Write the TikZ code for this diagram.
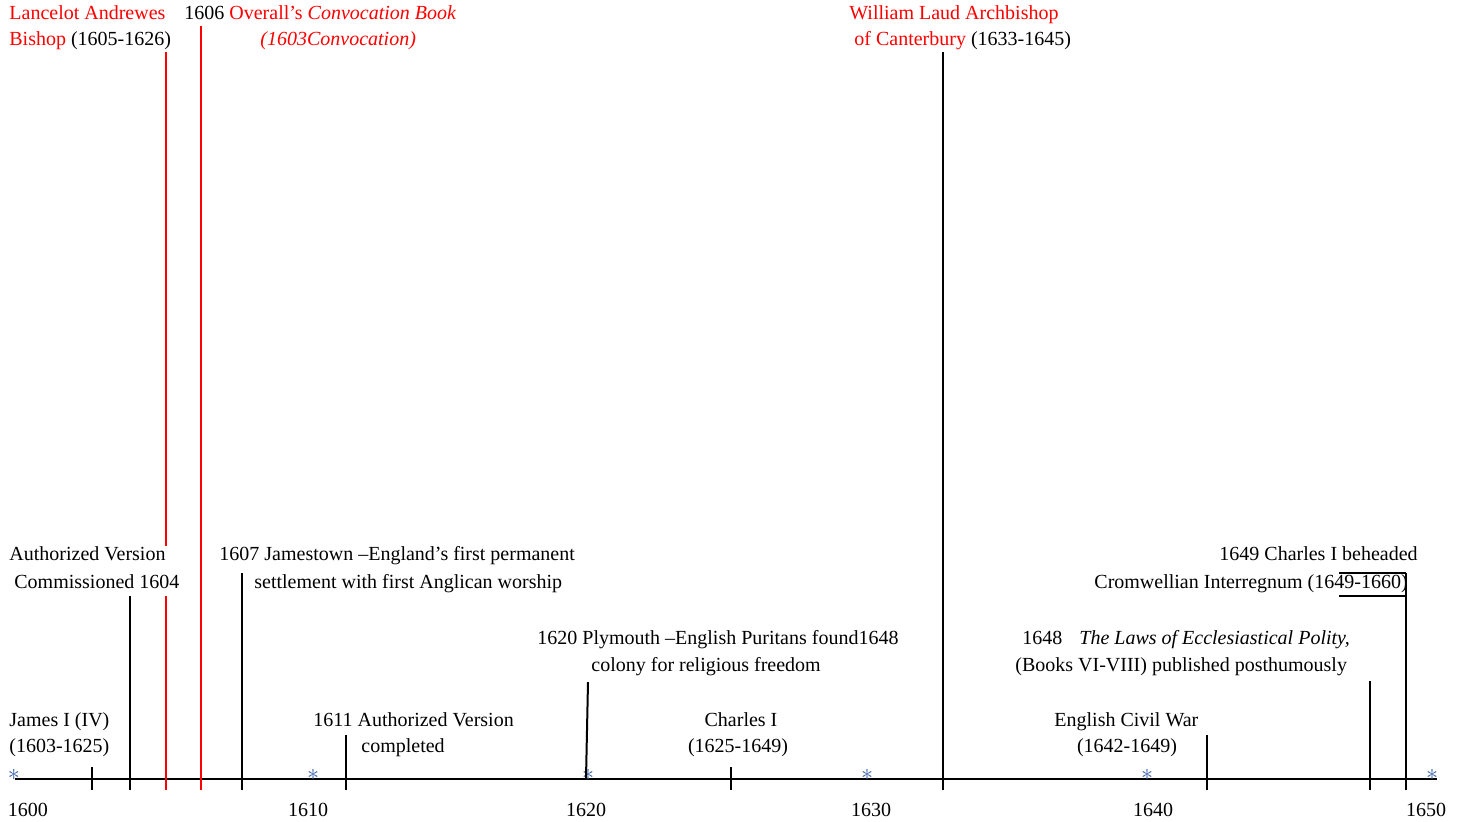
\documentclass[tikz,border=0pt]{standalone}
\usepackage{fontspec}
\setmainfont{Liberation Serif}
\definecolor{starblue}{RGB}{60,100,170}
\begin{document}
\begin{tikzpicture}[x=0.5pt,y=-0.5pt,font=\fontsize{10}{12}\selectfont,
	txt/.style={anchor=base west,inner sep=0pt},
	ctxt/.style={anchor=base,inner sep=0pt},
	mark line/.style={line width=1pt}]
	\useasboundingbox (0,0) rectangle (1462,821);
	% axis and stars
	\path (15,779) coordinate (O) (1437,779) coordinate (E);
	\draw[mark line] (O)--(E);
	\foreach \x in {14,313,588,867,1147,1432}{
		\node[text=starblue,inner sep=0pt,scale=1.2] at (\x,775) {$\ast$};
	}
	% ticks: x / top / colour / name
	\foreach \x/\t/\c/\n in {92/767/black/a,130/596/black/b,201/26/red/d,242/573/black/e,
		346/735/black/f,731/767/black/h,943/52/black/i,1207/735/black/j,
		1370/681/black/k,1406/573/black/l}{
		\draw[mark line,\c] (\x,\t) coordinate (\n_1)--(\x,790) coordinate (\n);
	}
	\path (166,52) coordinate (c_1) (166,790) coordinate (c)
	(588,682) coordinate (g_1) (586,779) coordinate (g);
	\draw[mark line] (g_1)--(g);
	\draw[mark line] (1339,573)--(l_1) (1339,596)--(l_1|-{(0,596)});
	% labels on top
	\node[txt] (andrewes_a) at (9,19) {\textcolor{red}{Lancelot Andrewes}};
	\node[txt] (andrewes_b) at (9,45) {\textcolor{red}{Bishop} (1605-1626)};
	\node[txt] (overall_a) at (184,19) {1606 \textcolor{red}{Overall’s \textit{Convocation Book}}};
	\node[txt] (overall_b) at (260,45) {\textcolor{red}{\textit{(1603Convocation)}}};
	\node[txt] (laud_a) at (849,19) {\textcolor{red}{William Laud Archbishop}};
	\node[txt] (laud_b) at (854,45) {\textcolor{red}{of Canterbury} (1633-1645)};
	% middle rows
	\node[txt] (auth_a) at (9,560) {Authorized Version};
	\node[txt] (auth_b) at (14,588) {Commissioned 1604};
	\draw[mark line,red] (c_1)--(c_1|-auth_a.north) ([yshift=-3.5pt]c_1|-auth_b.south)--(c);
	\node[txt] (james_a) at (219,560) {1607 Jamestown –England’s first permanent};
	\node[txt] (james_b) at (254,588) {settlement with first Anglican worship};
	\node[txt] (behead_a) at (1219,560) {1649 Charles I beheaded};
	\node[txt] (crom_b) at (1094,588) {Cromwellian Interregnum (1649-1660)};
	\node[txt] (plym_a) at (537,644) {1620 Plymouth –English Puritans found1648};
	\node[txt] (plym_b) at (591,671) {colony for religious freedom};
	\node[txt] (hooker_a) at (1022,644) {1648\hspace{8.5pt}\textit{The Laws of Ecclesiastical Polity,}};
	\node[txt] (hooker_b) at (1015,671) {(Books VI-VIII) published posthumously};
	% lower row
	\node[txt] (king_a) at (9,726) {James I (IV)};
	\node[txt] (king_b) at (9,752) {(1603-1625)};
	\node[txt] (av_a) at (313,726) {1611 Authorized Version};
	\node[txt] (av_b) at (361,752) {completed};
	\node[ctxt] (charles_a) at (741,726) {Charles I};
	\node[ctxt] (charles_b) at (738,752) {(1625-1649)};
	\node[txt] (war_a) at (1054,726) {English Civil War};
	\node[ctxt] (war_b) at (1127,752) {(1642-1649)};
	% years
	\foreach \x/\y in {28/1600,308/1610,586/1620,871/1630,1153/1640,1426/1650}{
		\node[ctxt] (y\y) at (\x,816) {\y};
	}
\end{tikzpicture}
\end{document}
